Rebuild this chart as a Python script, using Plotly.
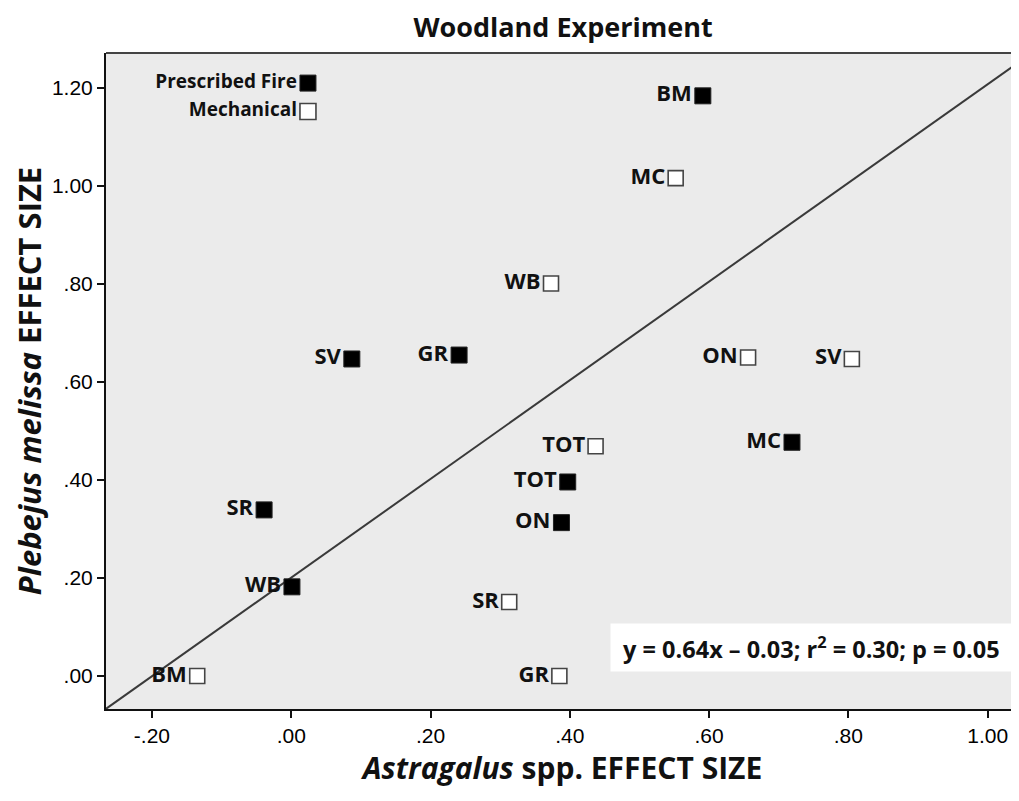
import plotly.graph_objects as go

# ---- data ----
fire_labels = ["BM", "SV", "GR", "MC", "TOT", "ON", "SR", "WB"]
fire_x = [0.591, 0.087, 0.241, 0.719, 0.397, 0.388, -0.039, 0.001]
fire_y = [1.184, 0.647, 0.655, 0.477, 0.396, 0.313, 0.339, 0.182]

mech_labels = ["MC", "WB", "ON", "SV", "TOT", "SR", "GR", "BM"]
mech_x = [0.552, 0.373, 0.656, 0.805, 0.437, 0.313, 0.385, -0.135]
mech_y = [1.016, 0.801, 0.650, 0.647, 0.469, 0.151, 0.000, 0.000]

legend_labels = ["Prescribed Fire", "Mechanical"]
legend_x = [0.024, 0.024]
legend_y = [1.210, 1.152]

fit_x = [-0.266, 1.045]
fit_y = [-0.067, 1.253]

x_ticks = [-0.2, 0.0, 0.2, 0.4, 0.6, 0.8, 1.0]
x_tick_text = ["-.20", ".00", ".20", ".40", ".60", ".80", "1.00"]
y_ticks = [0.0, 0.2, 0.4, 0.6, 0.8, 1.0, 1.2]
y_tick_text = [".00", ".20", ".40", ".60", ".80", "1.00", "1.20"]

equation_text = "y = 0.64x \u2013 0.03; r<sup>2</sup> = 0.30; p = 0.05"

x_range = [-0.266, 1.045]
y_range = [-0.0673, 1.2714]

LABEL_FONT = dict(family="Open Sans", size=22, color="#111111")

fig = go.Figure()

fig.add_trace(go.Scatter(
    x=fit_x, y=fit_y, mode="lines",
    line=dict(color="#3a3a3a", width=2), showlegend=False, hoverinfo="skip"))

fig.add_trace(go.Scatter(
    x=fire_x, y=fire_y, mode="markers+text", text=[f"<b>{t}</b>" for t in fire_labels],
    textposition="middle left", textfont=LABEL_FONT,
    marker=dict(symbol="square", size=16, color="#000000",
                line=dict(color="#222222", width=1)),
    showlegend=False))

fig.add_trace(go.Scatter(
    x=mech_x, y=mech_y, mode="markers+text", text=[f"<b>{t}</b>" for t in mech_labels],
    textposition="middle left", textfont=LABEL_FONT,
    marker=dict(symbol="square", size=15, color="#ffffff",
                line=dict(color="#444444", width=1.6)),
    showlegend=False))

fig.add_trace(go.Scatter(
    x=legend_x[:1], y=legend_y[:1], mode="markers+text",
    text=[f"<b>{legend_labels[0]}</b>"], textposition="middle left",
    textfont=dict(family="Open Sans", size=19, color="#111111"),
    marker=dict(symbol="square", size=16, color="#000000",
                line=dict(color="#222222", width=1)),
    showlegend=False))

fig.add_trace(go.Scatter(
    x=legend_x[1:], y=legend_y[1:], mode="markers+text",
    text=[f"<b>{legend_labels[1]}</b>"], textposition="middle left",
    textfont=dict(family="Open Sans", size=19, color="#111111"),
    marker=dict(symbol="square", size=16, color="#ffffff",
                line=dict(color="#444444", width=1.6)),
    showlegend=False))

fig.add_annotation(
    xref="paper", yref="y", x=1.0, y=0.059, xanchor="right", yanchor="middle",
    text=f" <b>{equation_text}</b>  ", showarrow=False,
    font=dict(family="Open Sans", size=23.5, color="#111111"),
    bgcolor="#ffffff", borderpad=6)

# top frame line
fig.add_shape(type="line", xref="paper", yref="paper", x0=0, x1=1, y0=1, y1=1,
              line=dict(color="#444444", width=2))

fig.update_layout(
    width=1011, height=793,
    margin=dict(l=98, r=0, t=45, b=92),
    paper_bgcolor="#ffffff", plot_bgcolor="#ebebeb",
    title=dict(text="<b>Woodland Experiment</b>", x=0.549, xanchor="center",
               y=0.975, yanchor="middle",
               font=dict(family="Open Sans", size=27, color="#111111")),
    xaxis=dict(range=x_range, tickvals=x_ticks, ticktext=x_tick_text,
               showgrid=False, zeroline=False, showline=True, linecolor="#111111",
               linewidth=2, ticks="outside", ticklen=7, tickwidth=2, tickcolor="#111111",
               tickfont=dict(family="Liberation Sans", size=21, color="#000000"),
               title=dict(text="<b><i>Astragalus</i> spp. EFFECT SIZE</b>",
                          font=dict(family="Open Sans", size=30, color="#111111"),
                          standoff=12)),
    yaxis=dict(range=y_range, tickvals=y_ticks, ticktext=y_tick_text,
               showgrid=False, zeroline=False, showline=True, linecolor="#111111",
               linewidth=2, ticks="outside", ticklen=7, tickwidth=2, tickcolor="#111111",
               tickfont=dict(family="Liberation Sans", size=21, color="#000000"),
               title=dict(text="<b><i>Plebejus melissa</i> EFFECT SIZE</b>",
                          font=dict(family="Open Sans", size=31, color="#111111"),
                          standoff=8)),
)

fig.write_html("out.html")
